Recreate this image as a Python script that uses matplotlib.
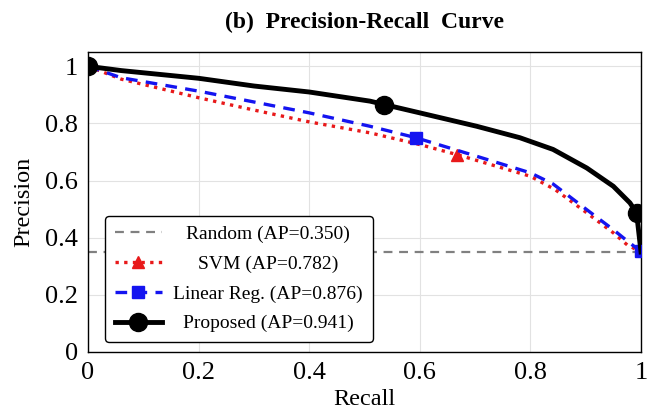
import matplotlib
matplotlib.use("Agg")
import matplotlib.pyplot as plt
import numpy as np

plt.rcParams['font.family'] = ['Liberation Serif', 'DejaVu Serif']

# Data
rand_x = [0.0, 1.0]
rand_y = [0.35, 0.35]

svm_x = [0.0, 0.06, 0.2, 0.295, 0.401, 0.51, 0.6, 0.667, 0.8, 0.845, 0.902, 0.95, 0.975, 1.0]
svm_y = [1.0, 0.955, 0.89, 0.849, 0.805, 0.767, 0.726, 0.691, 0.615, 0.568, 0.487, 0.417, 0.375, 0.35]
svm_marks = [7]

lin_x = [0.0, 0.06, 0.2, 0.295, 0.4, 0.51, 0.593, 0.703, 0.8, 0.841, 0.902, 0.95, 0.98, 1.0]
lin_y = [1.0, 0.96, 0.913, 0.877, 0.837, 0.79, 0.75, 0.685, 0.627, 0.588, 0.498, 0.428, 0.381, 0.352]
lin_marks = [6, 13]

prop_x = [0.0, 0.06, 0.2, 0.3, 0.4, 0.51, 0.536, 0.6, 0.703, 0.781, 0.841, 0.902, 0.95, 0.98, 0.992, 1.0]
prop_y = [1.0, 0.985, 0.958, 0.931, 0.91, 0.878, 0.866, 0.837, 0.79, 0.75, 0.709, 0.644, 0.58, 0.522, 0.487, 0.35]
prop_marks = [0, 6, 14]

labels = ["Random (AP=0.350)", "SVM (AP=0.782)", "Linear Reg. (AP=0.876)", "Proposed (AP=0.941)"]
xticks = [0, 0.2, 0.4, 0.6, 0.8, 1]
xticklabels = ["0", "0.2", "0.4", "0.6", "0.8", "1"]
yticks = [0, 0.2, 0.4, 0.6, 0.8, 1]
yticklabels = ["0", "0.2", "0.4", "0.6", "0.8", "1"]

fig = plt.figure(figsize=(6.48, 4.12), dpi=100)
ax = fig.add_axes([88/648, (412-352)/412, (641-88)/648, 300/412])

ax.plot(rand_x, rand_y, color='#808080', lw=1.6, ls=(0, (4, 3)), label=labels[0], zorder=2)
ax.plot(svm_x, svm_y, color='#e8191a', lw=2.4, ls=(0, (1, 1.6)), marker='^', markersize=8,
        markevery=svm_marks, label=labels[1], zorder=3)
ax.plot(lin_x, lin_y, color='#1414f0', lw=2.4, ls=(0, (3.5, 2.5)), marker='s', markersize=9,
        markevery=lin_marks, label=labels[2], zorder=4)
ax.plot(prop_x, prop_y, color='black', lw=3.5, ls='-', marker='o', markersize=13,
        markevery=prop_marks, label=labels[3], zorder=5)

ax.set_xlim(0, 1)
ax.set_ylim(0, 1.05)
ax.set_xticks(xticks)
ax.set_xticklabels(xticklabels)
ax.set_yticks(yticks)
ax.set_yticklabels(yticklabels)
ax.tick_params(length=0, pad=7, labelsize=19)
ax.grid(True, color='#e2e2e2', lw=0.8)
ax.set_axisbelow(True)
for s in ax.spines.values():
    s.set_linewidth(1.0)

ax.set_xlabel("Recall", fontsize=17.5, labelpad=4)
ax.set_ylabel("Precision", fontsize=17.5, labelpad=8)
ax.set_title("(b)  Precision-Recall  Curve", fontsize=17, fontweight='bold', pad=17)

leg = ax.legend(loc='lower left', bbox_to_anchor=(0.031, 0.033), borderaxespad=0,
                fontsize=14, handlelength=2.4, handletextpad=0.6, labelspacing=0.62,
                borderpad=0.5, fancybox=True, framealpha=1, edgecolor='black')
leg.get_frame().set_linewidth(1.0)
leg.set_zorder(10)

# center legend texts like pgfplots
fig.canvas.draw()
r = fig.canvas.get_renderer()
ws = [t.get_window_extent(r).width for t in leg.get_texts()]
mw = max(ws)
for t, w in zip(leg.get_texts(), ws):
    t.set_position(((mw - w) / 2, 0))

fig.savefig("out.png", dpi=100)
